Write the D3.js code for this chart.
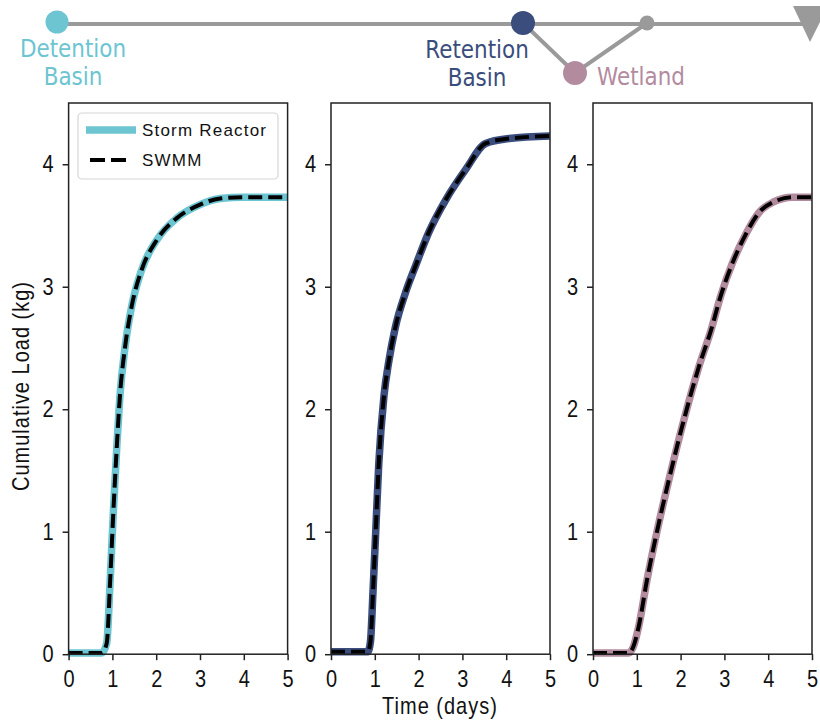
<!DOCTYPE html>
<html lang="en">
	<head>
		<meta charset="utf-8">
		<title>Cumulative load: Storm Reactor vs SWMM</title>
		<script src="https://cdn.jsdelivr.net/npm/d3@7"></script>
		<style>
			body { margin: 0; background: #fff; }
			svg text { font-family: "Liberation Sans", Arial, sans-serif; }
			/* the reference type is a bit taller than Arial */
			.tall { transform-box: fill-box; transform-origin: center; transform: scaleY(1.17); }
		</style>
	</head>
	<body>
		<script>
			var w = 820;
			var h = 725;

			// readings (time in days, load in kg)
			var detentionTime = [0, 0.76, 0.87, 0.95, 1.02, 1.10, 1.17, 1.29, 1.44, 1.67, 2.01, 2.47, 3.0, 3.46, 4.0, 5.0];
			var detentionLoad = [0.01, 0.01, 0.09, 0.61, 1.15, 1.69, 2.10, 2.51, 2.84, 3.14, 3.38, 3.56, 3.67, 3.72, 3.73, 3.73];

			var retentionTime = [0, 0.84, 0.90, 0.96, 1.02, 1.09, 1.21, 1.32, 1.47, 1.70, 1.93, 2.24, 2.62, 3.08, 3.53, 4.07, 5.0];
			var retentionLoad = [0.02, 0.02, 0.10, 0.52, 0.99, 1.55, 2.11, 2.39, 2.67, 2.95, 3.17, 3.45, 3.71, 3.96, 4.17, 4.21, 4.23];

			var wetlandTime = [0, 0.81, 0.92, 1.04, 1.23, 1.46, 1.73, 2.11, 2.42, 2.69, 2.92, 3.18, 3.49, 3.80, 4.11, 4.56, 5.0];
			var wetlandLoad = [0.01, 0.01, 0.06, 0.22, 0.60, 1.00, 1.42, 1.96, 2.35, 2.64, 2.93, 3.19, 3.43, 3.61, 3.69, 3.73, 3.73];

			// SWMM sits right on top of Storm Reactor in all three panels
			var detentionSwmm = detentionLoad;
			var retentionSwmm = retentionLoad;
			var wetlandSwmm = wetlandLoad;

			var xTicks = [0, 1, 2, 3, 4, 5];
			var yTicks = [0, 1, 2, 3, 4];
			var seriesNames = ["Storm Reactor", "SWMM"];

			var panels = [
				{ name: "Detention Basin", color: "#6cc5d1", t: detentionTime, sr: detentionLoad, sw: detentionSwmm, left: 68.6 },
				{ name: "Retention Basin", color: "#3a4d7c", t: retentionTime, sr: retentionLoad, sw: retentionSwmm, left: 331 },
				{ name: "Wetland", color: "#b38b9f", t: wetlandTime, sr: wetlandLoad, sw: wetlandSwmm, left: 593 }
			];
			var pw = 219;
			var plotTop = 103, plotBottom = 654.2;

			var svg = d3.select("body")
				.append("svg")
				.attr("width", w)
				.attr("height", h);

			//process diagram on top
			var grey = "#9a9a9a";
			var diag = svg.append("g");
			diag.append("line").attr("x1", 57).attr("y1", 24).attr("x2", 805).attr("y2", 24)
				.attr("stroke", grey).attr("stroke-width", 4);
			diag.append("polyline").attr("points", "523,23 575,73 647,23")
				.attr("fill", "none").attr("stroke", grey).attr("stroke-width", 4);
			diag.append("path").attr("d", "M793,6 L828,6 L810,42 Z").attr("fill", grey);
			diag.append("circle").attr("cx", 647).attr("cy", 23).attr("r", 7.5).attr("fill", grey);
			diag.append("circle").attr("cx", 57).attr("cy", 22).attr("r", 11.5).attr("fill", panels[0].color);
			diag.append("circle").attr("cx", 523).attr("cy", 23).attr("r", 12).attr("fill", panels[1].color);
			diag.append("circle").attr("cx", 575).attr("cy", 73).attr("r", 12).attr("fill", panels[2].color);

			var lab = [
				{ text: "Detention", x: 73, y: 56, anchor: "middle", c: panels[0].color },
				{ text: "Basin", x: 73, y: 84, anchor: "middle", c: panels[0].color },
				{ text: "Retention", x: 477, y: 57, anchor: "middle", c: panels[1].color },
				{ text: "Basin", x: 477, y: 85, anchor: "middle", c: panels[1].color },
				{ text: "Wetland", x: 597, y: 84, anchor: "start", c: panels[2].color }
			];
			diag.selectAll("text.lab")
				.data(lab)
				.enter()
				.append("text")
				.attr("class", "lab tall")
				.attr("x", function(d) { return d.x; })
				.attr("y", function(d) { return d.y; })
				.attr("text-anchor", function(d) { return d.anchor; })
				.attr("fill", function(d) { return d.c; })
				.style("font-family", "'DejaVu Sans', sans-serif")
				.style("font-size", "21.5px")
				.text(function(d) { return d.text; });

			var yScale = d3.scaleLinear().domain([0, 4.5]).range([plotBottom, plotTop]);

			panels.forEach(function(p, i) {
				var xScale = d3.scaleLinear().domain([0, 5]).range([p.left, p.left + pw]);
				var g = svg.append("g");

				var line = function(vals) {
					return d3.line()
						.x(function(d, j) { return xScale(p.t[j]); })
						.y(function(d) { return yScale(d); })
						.curve(d3.curveMonotoneX)(vals);
				};

				g.append("path")
					.attr("d", line(p.sr))
					.attr("fill", "none")
					.attr("stroke", p.color)
					.attr("stroke-width", 7.5);
				g.append("path")
					.attr("d", line(p.sw))
					.attr("fill", "none")
					.attr("stroke", "#000")
					.attr("stroke-width", 4)
					.attr("stroke-dasharray", "14,6");

				//frame
				g.append("rect")
					.attr("x", p.left).attr("y", plotTop)
					.attr("width", pw).attr("height", plotBottom - plotTop)
					.attr("fill", "none").attr("stroke", "#222").attr("stroke-width", 1.5);

				var xAxis = g.append("g")
					.attr("transform", "translate(0," + plotBottom + ")")
					.call(d3.axisBottom(xScale).tickValues(xTicks).tickSize(6).tickPadding(11).tickFormat(d3.format("d")));
				var yAxis = g.append("g")
					.attr("transform", "translate(" + p.left + ",0)")
					.call(d3.axisLeft(yScale).tickValues(yTicks).tickSize(6).tickPadding(9).tickFormat(d3.format("d")));
				[xAxis, yAxis].forEach(function(a) {
					a.select(".domain").remove();
					a.selectAll(".tick line").attr("stroke", "#222").attr("stroke-width", 1.5);
					a.selectAll("text")
						.attr("class", "tall")
						.attr("fill", "#111")
						.style("font-size", "20px")
						.style("font-family", "'Liberation Sans', Arial, sans-serif");
				});
			});

			//axis titles
			svg.append("text")
				.attr("class", "tall")
				.attr("x", 440).attr("y", 713)
				.attr("text-anchor", "middle")
				.style("font-size", "20px")
				.style("letter-spacing", "1px")
				.attr("fill", "#111")
				.text("Time (days)");
			svg.append("text")
				.attr("transform", "translate(29,386) rotate(-90) scale(1,1.17)")
				.attr("text-anchor", "middle")
				.style("font-size", "20px")
				.style("letter-spacing", "1px")
				.attr("fill", "#111")
				.text("Cumulative Load (kg)");

			//legend
			var lg = svg.append("g");
			lg.append("rect")
				.attr("x", 78).attr("y", 113).attr("width", 200).attr("height", 66)
				.attr("rx", 4).attr("fill", "#fff").attr("stroke", "#d6d6d6").attr("stroke-width", 1.2);
			lg.append("line").attr("x1", 86).attr("x2", 136).attr("y1", 130).attr("y2", 130)
				.attr("stroke", panels[0].color).attr("stroke-width", 7.5);
			lg.append("line").attr("x1", 90).attr("x2", 128).attr("y1", 160).attr("y2", 160)
				.attr("stroke", "#000").attr("stroke-width", 4).attr("stroke-dasharray", "15,6");
			lg.selectAll("text.leg")
				.data(seriesNames)
				.enter()
				.append("text")
				.attr("class", "leg")
				.attr("x", 142)
				.attr("y", function(d, i) { return 136 + i * 30; })
				.style("font-size", "17px")
				.style("letter-spacing", "1.2px")
				.attr("fill", "#111")
				.text(function(d) { return d; });
		</script>
	</body>
</html>
